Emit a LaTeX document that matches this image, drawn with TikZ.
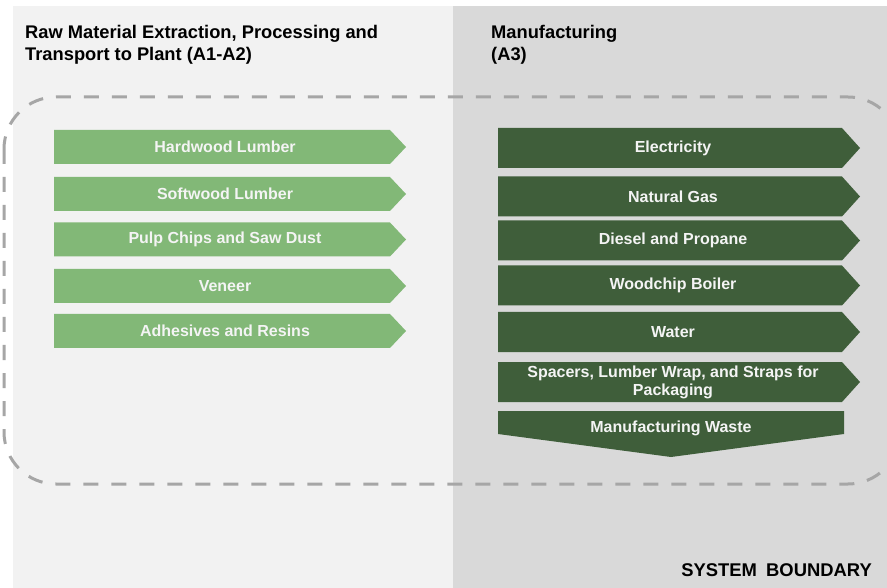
\documentclass[tikz,border=0pt]{standalone}
\usepackage{fontspec}
\setmainfont{Liberation Sans}
\definecolor{lightpanel}{HTML}{F2F2F2}
\definecolor{darkpanel}{HTML}{D9D9D9}
\definecolor{lgreen}{HTML}{82B877}
\definecolor{dgreen}{HTML}{3F5E3A}
\definecolor{dashgray}{HTML}{A6A6A6}
\definecolor{txtwhite}{HTML}{F4F4F4}
\tikzset{
  arrowtext/.style={text=txtwhite, font=\fontsize{16}{18}\selectfont\bfseries, inner sep=0pt, align=center},
  titletext/.style={font=\fontsize{18.3}{22}\selectfont\bfseries, inner sep=0pt, align=left, anchor=base west},
  boundary/.style={draw=dashgray, line width=3pt, dash pattern=on 15pt off 13pt, rounded corners=52pt},
}
\newcommand\lgarrow[3]{%
  \fill[lgreen] (54,#2-17) -- (390,#2-17) -- (406,#2) -- (390,#2+17) -- (54,#2+17) -- cycle;
  \node[arrowtext] (#1) at (225,#2) {#3};}
\newcommand\dgarrow[3]{%
  \fill[dgreen] (498,#2-20) -- (842,#2-20) -- (860,#2) -- (842,#2+20) -- (498,#2+20) -- cycle;
  \node[arrowtext] (#1) at (673,#2) {#3};}
\begin{document}
\begin{tikzpicture}[x=1pt,y=-1pt]
\useasboundingbox (0,0) rectangle (887,588);
\clip (0,0) rectangle (887,588);
\fill[white] (0,0) rectangle (887,588);
\fill[lightpanel] (13,6) rectangle (453,588);
\fill[darkpanel] (453,6) rectangle (887,588);
\node[titletext] (t1) at (25,61) {Raw Material Extraction, Processing and\\Transport to Plant (A1-A2)};
\node[titletext] (t2) at (491,61) {Manufacturing\\(A3)};
\draw[boundary] (4,97) rectangle (900,484);
\lgarrow{hw}{147}{Hardwood Lumber}
\lgarrow{sw}{194}{Softwood Lumber}
\lgarrow{pc}{239.5}{Pulp Chips and Saw Dust}
\lgarrow{vn}{286}{Veneer}
\lgarrow{ar}{331}{Adhesives and Resins}
\dgarrow{el}{148}{Electricity}
\dgarrow{ng}{196.5}{Natural Gas}
\dgarrow{dp}{240.5}{Diesel and Propane}
\dgarrow{wb}{285.5}{Woodchip Boiler}
\dgarrow{wa}{332}{Water}
\dgarrow{sp}{382}{Spacers, Lumber Wrap, and Straps for\\Packaging}
\fill[dgreen] (498,411) -- (844,411) -- (844,434) -- (671,457) -- (498,434) -- cycle;
\node[arrowtext] (mw) at (671,428) {Manufacturing Waste};
\node[font=\fontsize{18.4}{20}\selectfont\bfseries, inner sep=0pt, anchor=base east] (sb) at (872,576) {SYSTEM\hspace{0.5em}BOUNDARY};
\end{tikzpicture}
\end{document}
